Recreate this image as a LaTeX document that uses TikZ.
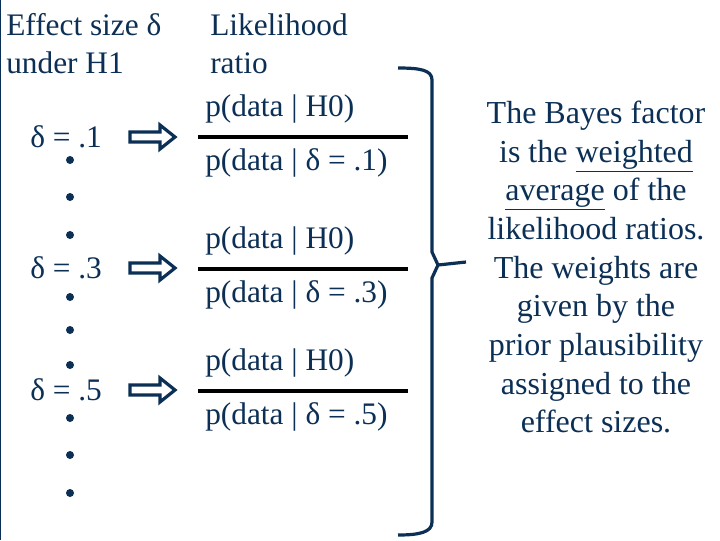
\documentclass[tikz,border=0pt]{standalone}
\usepackage{fontspec}
\setmainfont{Liberation Serif}
\definecolor{navy}{HTML}{0B2F55}
\begin{document}
\begin{tikzpicture}[x=0.75pt,y=-0.75pt,
  txt/.style={text=navy,font=\fontsize{23.5}{28}\selectfont,inner sep=0pt},
  dot/.style={circle,fill=navy,minimum size=6pt,inner sep=0pt},
  harrow/.style={draw=navy,line width=2.4pt,line join=miter}]
\useasboundingbox (0,0) rectangle (720,540);
\fill[white] (0,0) rectangle (720,540);
\draw[navy,line width=1.5pt] (0,0) -- (0,540);
\node[txt,anchor=west] (t1) at (6,25) {Effect size δ};
\node[txt,anchor=west] (t2) at (6,63) {under H1};
\node[txt,anchor=west] (t3) at (210,25) {Likelihood};
\node[txt,anchor=west] (t4) at (210,63) {ratio};
\foreach \y/\v [count=\i] in {137/1,268/3,390/5}{
  \node[txt,anchor=west] (d\i) at (30,\y) {δ = .\v};
  \draw[harrow] (130,\y+5) -- (160,\y+5) -- (160,\y+12) -- (175,\y) -- (160,\y-12) -- (160,\y-5) -- (130,\y-5) -- cycle;
}
\foreach \y in {160,197,235,297,330,365,418,455,493}{\node[dot] at (70,\y) {};}
\foreach \y/\v [count=\i] in {137/1,269/3,391/5}{
  \node[txt,anchor=west] (n\i) at (205,\y-28) {p(data | H0)};
  \draw[black,line width=2.6pt] (198,\y) -- (408,\y);
  \node[txt,anchor=west] (m\i) at (205,\y+26) {p(data | δ = .\v)};
}
\draw[navy,line width=2.4pt] (398,68) .. controls (420,68) and (432,70) .. (432,80) -- (432,252) -- (438,265) -- (432,278) -- (432,522) .. controls (432,532) and (420,535) .. (398,535);
\draw[navy,line width=2.4pt] (438,265) -- (466,262);
\node[txt,align=center,font=\fontsize{24}{29}\selectfont] (bf) at (596,267) {The Bayes factor\\is the \underline{weighted}\\\underline{average} of the\\likelihood ratios.\\The weights are\\given by the\\prior plausibility\\assigned to the\\effect sizes.};
\end{tikzpicture}
\end{document}
